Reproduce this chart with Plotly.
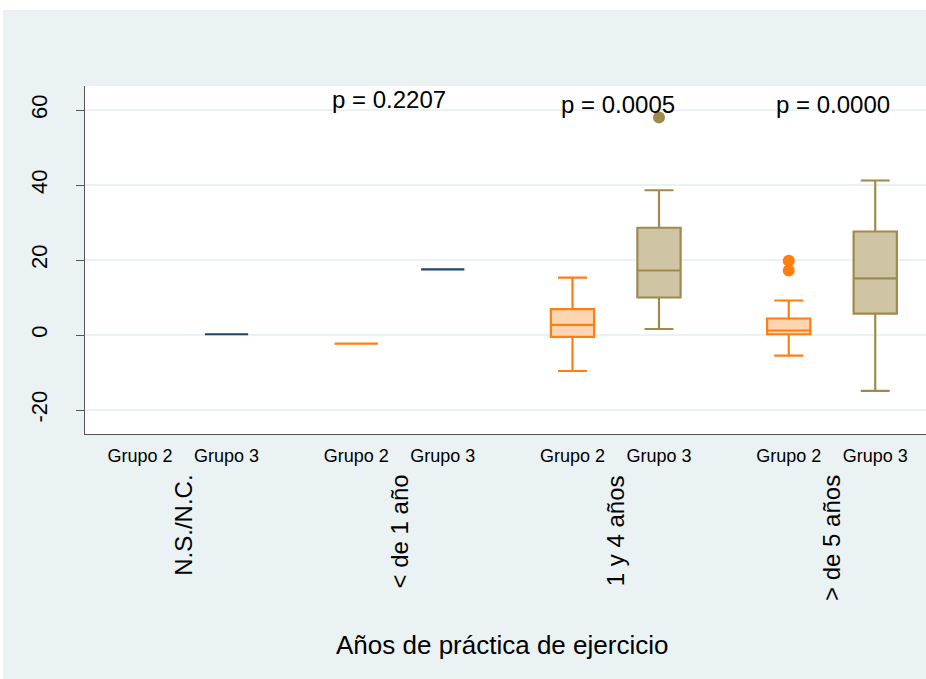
import plotly.graph_objects as go

# Exercise-years groups and the two comparison groups inside each
categorias = ["N.S./N.C.", "< de 1 año", "1 y 4 años", "> de 5 años"]
grupos = ["Grupo 2", "Grupo 3"]
p_valores = ["p = 0.2207", "p = 0.0005", "p = 0.0000"]
y_ticks = [-20, 0, 20, 40, 60]
y_ticktext = ["-20", "0", "20", "40", "60"]

# Box statistics per (category, group); None where the group is empty
g2_lower = [None, -2.3, -9.6, -5.5]
g2_q1 = [None, -2.3, -0.5, 0.2]
g2_median = [None, -2.3, 2.7, 1.2]
g2_q3 = [None, -2.3, 6.9, 4.4]
g2_upper = [None, -2.3, 15.3, 9.2]
g2_outliers = [[], [], [], [19.8, 17.2]]

g3_lower = [0.2, 17.5, 1.6, -14.9]
g3_q1 = [0.2, 17.5, 10.0, 5.7]
g3_median = [0.2, 17.5, 17.2, 15.1]
g3_q3 = [0.2, 17.5, 28.6, 27.6]
g3_upper = [0.2, 17.5, 38.6, 41.2]
g3_outliers = [[], [], [58.0], []]

# colours
BG = "#EAF2F3"
NAVY = "#1A476F"
ORANGE = "#FF7F0E"
ORANGE_FILL = "#FDD5B0"
SAND = "#A08A4B"
SAND_FILL = "#CFC5A5"
AXIS = "#555555"
FONT = "Liberation Sans, Arial, sans-serif"

PAIR_STEP = 2.5
positions = []
for i in range(len(categorias)):
    positions += [i * PAIR_STEP, i * PAIR_STEP + 1]

fig = go.Figure()


def add_box(x, lo, q1, med, q3, hi, line, fill):
    flat = lo == q1 == med == q3 == hi
    fig.add_trace(go.Box(
        x=[x], q1=[q1], median=[med], q3=[q3],
        lowerfence=[lo], upperfence=[hi],
        width=0.5, whiskerwidth=0.67,
        line=dict(color=line, width=2.2),
        fillcolor=fill if not flat else line,
        boxpoints=False, showlegend=False, hoverinfo="y",
    ))


for i in range(len(categorias)):
    x2 = i * PAIR_STEP
    x3 = x2 + 1
    if g2_median[i] is not None:
        add_box(x2, g2_lower[i], g2_q1[i], g2_median[i], g2_q3[i], g2_upper[i],
                ORANGE, ORANGE_FILL)
    if g3_median[i] is not None:
        flat = g3_lower[i] == g3_upper[i]
        add_box(x3, g3_lower[i], g3_q1[i], g3_median[i], g3_q3[i], g3_upper[i],
                NAVY if flat else SAND, SAND_FILL)
    if g2_outliers[i]:
        fig.add_trace(go.Scatter(
            x=[x2] * len(g2_outliers[i]), y=g2_outliers[i], mode="markers",
            marker=dict(color=ORANGE, size=12), showlegend=False))
    if g3_outliers[i]:
        fig.add_trace(go.Scatter(
            x=[x3] * len(g3_outliers[i]), y=g3_outliers[i], mode="markers",
            marker=dict(color=SAND, size=12), showlegend=False))

annotations = []
# p-values over the last three categories
p_x = [2.88, 5.53, 8.01]
p_y = [62.9, 61.6, 61.6]
for txt, px, py in zip(p_valores, p_x, p_y):
    annotations.append(dict(x=px, y=py, xref="x", yref="y", text=txt,
                            showarrow=False, font=dict(size=24, color="black", family=FONT),
                            xanchor="center", yanchor="middle"))
# category labels, rotated under each pair
for i, cat in enumerate(categorias):
    annotations.append(dict(x=i * PAIR_STEP + 0.5, y=-0.112, xref="x", yref="paper",
                            text=cat, textangle=-90, showarrow=False,
                            font=dict(size=24, color="black", family=FONT),
                            xanchor="center", yanchor="top"))
annotations.append(dict(x=(502 - 85) / 841, y=-0.606, xref="paper", yref="paper",
                        text="Años de práctica de ejercicio", showarrow=False,
                        font=dict(size=26, color="black", family=FONT),
                        xanchor="center", yanchor="middle"))

shapes = [
    dict(type="rect", xref="paper", yref="paper", layer="below",
         x0=-85 / 841 + 3 / 841, x1=1.0, y0=-245 / 348, y1=(434 - 10) / 348,
         fillcolor=BG, line=dict(width=0)),
    dict(type="rect", xref="paper", yref="paper", layer="below",
         x0=0, x1=1, y0=0, y1=1, fillcolor="white", line=dict(width=0)),
]

fig.update_layout(
    width=926, height=679,
    margin=dict(l=85, r=0, t=86, b=245),
    paper_bgcolor="white", plot_bgcolor="white",
    font=dict(family=FONT, color="black"),
    showlegend=False,
    annotations=annotations, shapes=shapes,
    xaxis=dict(
        range=[-0.636, 9.087], tickmode="array",
        tickvals=positions, ticktext=grupos * len(categorias),
        ticks="", showgrid=False, zeroline=False,
        showline=True, linecolor=AXIS, linewidth=1.2,
        tickfont=dict(size=18, color="black"), ticklabelstandoff=5,
    ),
    yaxis=dict(
        range=[-26.4, 66.4], tickmode="array", tickvals=y_ticks, ticktext=y_ticktext,
        ticks="outside", ticklen=8, tickcolor=AXIS, tickwidth=1.2,
        tickangle=-90, tickfont=dict(size=22, color="black"),
        showgrid=True, gridcolor=BG, gridwidth=1.5, zeroline=False,
        showline=True, linecolor=AXIS, linewidth=1.2,
        ticklabelstandoff=20,
    ),
)

fig.write_html("out.html")
